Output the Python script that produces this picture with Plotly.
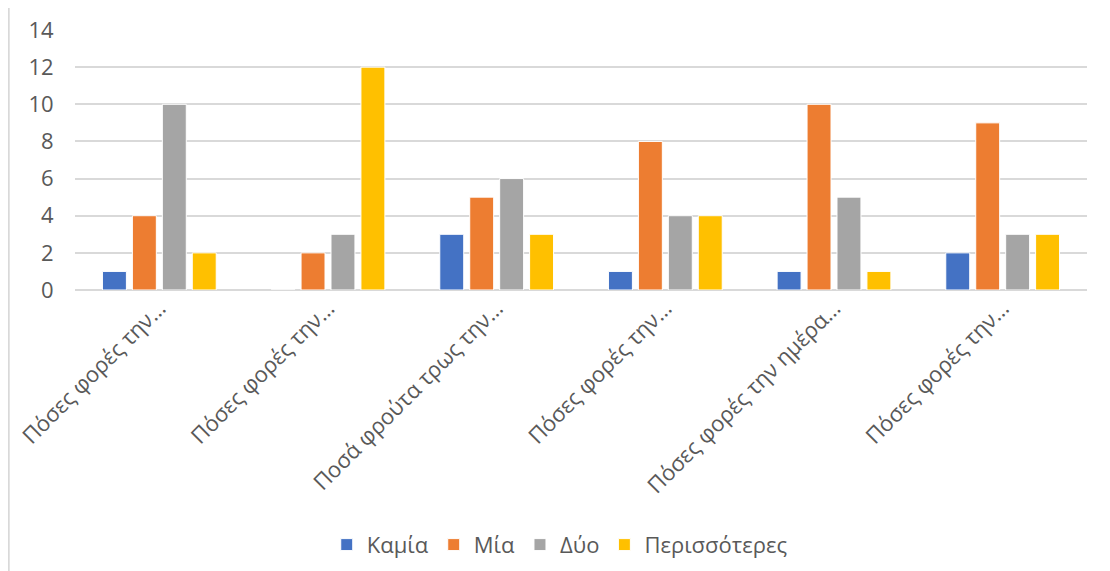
import plotly.graph_objects as go

categories = ["Πόσες φορές την…", "Πόσες φορές την…", "Ποσά φρούτα τρως την…",
              "Πόσες φορές την…", "Πόσες φορές την ημέρα…", "Πόσες φορές την…"]
series_names = ["Καμία", "Μία", "Δύο", "Περισσότερες"]
kamia = [1, 0, 3, 1, 1, 2]
mia = [4, 2, 5, 8, 10, 9]
dyo = [10, 3, 6, 4, 5, 3]
perissoteres = [2, 12, 3, 4, 1, 3]
colors = ["#4472C4", "#ED7D31", "#A5A5A5", "#FFC000"]
y_ticks = [0, 2, 4, 6, 8, 10, 12, 14]

x = list(range(len(categories)))
FONT = "Open Sans"
FS = 22

fig = go.Figure()
for name, vals, col in zip(series_names, [kamia, mia, dyo, perissoteres], colors):
    fig.add_trace(go.Bar(
        x=x, y=vals, name=name,
        marker=dict(color=col, line=dict(color="white", width=1)),
    ))

fig.update_layout(
    width=1102, height=563,
    paper_bgcolor="white", plot_bgcolor="white",
    barmode="group", bargap=0.29, bargroupgap=0.2,
    margin=dict(l=67, r=23, t=22, b=281, autoexpand=False),
    font=dict(family=FONT, size=FS, color="#595959"),
    xaxis=dict(
        tickmode="array", tickvals=x, ticktext=categories,
        tickangle=-45, range=[-0.5, 5.5],
        showgrid=False, zeroline=False, showline=False,
        ticks="", tickfont=dict(size=FS, color="#595959"),
    ),
    yaxis=dict(
        range=[0, 14], tickvals=y_ticks,
        showgrid=True, gridcolor="#D9D9D9", gridwidth=1.5,
        zeroline=True, zerolinecolor="#D9D9D9", zerolinewidth=1.5,
        showline=False, ticks="outside", ticklen=16,
        tickcolor="rgba(0,0,0,0)",
        tickfont=dict(size=FS, color="#595959"),
    ),
    legend=dict(
        orientation="h", x=0.479, xanchor="center", y=-0.98, yanchor="middle",
        font=dict(size=FS, color="#595959"), itemwidth=30,
        traceorder="normal",
    ),
    shapes=[dict(type="line", xref="paper", yref="paper",
                 x0=-0.0655, x1=-0.0655, y0=-1.1, y1=1.12,
                 line=dict(color="#D9D9D9", width=2))],
)

fig.write_html("out.html")
